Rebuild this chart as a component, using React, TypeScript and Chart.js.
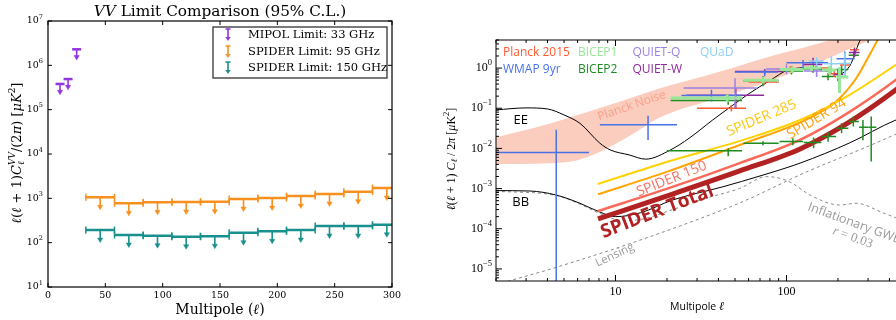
import React, { useEffect, useRef } from "react";
import { Chart, registerables } from "chart.js";

Chart.register(...registerables);

/* ================= Left panel: VV limits ================= */
const vvBinLo = [33, 58, 83, 108, 133, 158, 183, 208, 233, 258, 283];
const vvBinHi = [58, 83, 108, 133, 158, 183, 208, 233, 258, 283, 308];
const vvBinCenter = [45.5, 70.5, 95.5, 120.5, 145.5, 170.5, 195.5, 220.5, 245.5, 270.5, 295.5];
const spider95Limit = [1055, 771, 813, 830, 840, 966, 1015, 1127, 1250, 1415, 1710];
const spider150Limit = [193, 149, 144, 136, 140, 168, 180, 193, 238, 238, 254];
const mipolEll = [10.5, 17.5, 25];
const mipolLimit = [3.8e5, 4.9e5, 2.3e6];
const vvXTicks = [0, 50, 100, 150, 200, 250, 300];
const vvYTickExps = [1, 2, 3, 4, 5, 6, 7];
const vvLegendLabels = ["MIPOL Limit: 33 GHz", "SPIDER Limit: 95 GHz", "SPIDER Limit: 150 GHz"];

/* ================= Right panel: EE / BB ================= */
const noiseEll = [2, 4, 6, 8, 12, 18, 40, 80, 160, 270, 500];
const noiseUpper = [0.019, 0.04, 0.068, 0.1, 0.175, 0.31, 0.8, 1.95, 4.3, 8.4, 20];
const noiseLower = [0.0041, 0.0043, 0.0051, 0.008, 0.02, 0.058, 0.18, 0.48, 1.45, 3.9, 10];

const eeEll = [2, 3, 4, 5, 6.2, 8.1, 9.3, 12, 15, 21, 27, 37, 47, 61, 80, 104, 137, 171, 196, 234, 268, 300];
const eeVal = [0.091, 0.102, 0.096, 0.068, 0.042, 0.0135, 0.0092, 0.0069, 0.0054, 0.0092, 0.018, 0.051, 0.108, 0.238, 0.49, 0.92, 1.02, 0.84, 0.69, 1.12, 4.7, 12];

const bbEll = [2, 3.15, 4.5, 6.2, 8.1, 10, 14, 21.6, 42.5, 70, 120, 234, 437, 500];
const bbVal = [8.9e-4, 8.7e-4, 6.9e-4, 4.3e-4, 2.6e-4, 2.0e-4, 2.5e-4, 5.2e-4, 1.11e-3, 2.06e-3, 4.3e-3, 0.0137, 0.051, 0.061];

const lensEll = [2, 2.5, 4.55, 13.9, 53.3, 131, 268, 500];
const lensVal = [4.0e-6, 5.3e-6, 1.11e-5, 5.2e-5, 4.4e-4, 2.6e-3, 9.2e-3, 0.029];

const gwbEll = [2, 4.5, 6.2, 8.1, 11, 14, 21.6, 35, 53, 76, 100, 143, 204, 256, 366, 500];
const gwbVal = [8.6e-4, 6.7e-4, 4.1e-4, 2.4e-4, 1.6e-4, 1.7e-4, 3.0e-4, 6.0e-4, 1.0e-3, 1.98e-3, 1.6e-3, 6.3e-4, 3.9e-4, 4.3e-4, 2.5e-4, 1.5e-4];

const sp285Ell = [7.9, 19.9, 61, 120, 234, 437, 500];
const sp285Val = [1.3e-3, 4.6e-3, 0.0183, 0.051, 0.216, 1.21, 1.8];
const sp94Ell = [7.9, 19.9, 53.3, 137, 196, 257, 307, 342, 400];
const sp94Val = [7.2e-4, 2.6e-3, 0.0122, 0.0577, 0.15, 0.573, 2.18, 5.1, 16];
const sp150Ell = [7.9, 19.9, 53.3, 120, 234, 437, 500];
const sp150Val = [2.76e-4, 9.8e-4, 4.3e-3, 0.0163, 0.0813, 0.51, 0.81];
const spTotEll = [7.9, 19.9, 53.3, 120, 234, 437, 500];
const spTotVal = [1.75e-4, 6.5e-4, 2.75e-3, 9.7e-3, 0.0458, 0.288, 0.455];

// Experiments: centre, bin low, bin high, value, error low, error high
const wmapEll = [4.5, 15.5, 36.4, 74.6, 125, 219];
const wmapLo = [2, 8.1, 24.3, 49.8, 100, 196];
const wmapHi = [7, 22.9, 54.6, 89, 175, 250];
const wmapVal = [0.0079, 0.0386, 0.207, 0.795, 1.36, 1.71];
const wmapErrLo = [1e-7, 0.0163, 0.147, 0.63, 0.92, 0.57];
const wmapErrHi = [0.029, 0.065, 0.288, 0.92, 1.6, 2.6];

const bicep1Ell = [45, 73, 108, 140, 178, 204];
const bicep1Lo = [21, 56, 91, 126, 161, 196];
const bicep1Hi = [55, 90, 125, 160, 195, 230];
const bicep1Val = [0.179, 0.5, 0.92, 1.0, 0.9, 0.6];
const bicep1ErrLo = [0.14, 0.42, 0.75, 0.85, 0.7, 0.24];
const bicep1ErrHi = [0.22, 0.6, 1.1, 1.2, 1.15, 1.05];

const bicep2EEEll = [45.6, 72.9, 107, 142, 175, 210, 247];
const bicep2EELo = [21, 56, 91, 126, 161, 196, 231];
const bicep2EEHi = [55, 90, 125, 160, 195, 230, 265];
const bicep2EEVal = [0.156, 0.474, 0.84, 0.95, 0.62, 0.92, 2.1];
const bicep2EEErrLo = [0.122, 0.355, 0.69, 0.8, 0.5, 0.75, 1.7];
const bicep2EEErrHi = [0.215, 0.63, 1.12, 1.1, 0.75, 1.15, 2.6];

const bicep2BBEll = [45.6, 72.9, 109, 144, 175, 210, 246, 280, 313];
const bicep2BBLo = [20, 56, 91, 126, 161, 196, 231, 266, 301];
const bicep2BBHi = [55, 90, 125, 160, 195, 230, 265, 300, 335];
const bicep2BBVal = [0.0087, 0.0135, 0.0148, 0.014, 0.0197, 0.0319, 0.0466, 0.0338, 0.0338];
const bicep2BBErrLo = [0.0064, 0.012, 0.012, 0.0101, 0.0147, 0.024, 0.035, 0.016, 0.0047];
const bicep2BBErrHi = [0.0099, 0.015, 0.018, 0.0186, 0.026, 0.042, 0.062, 0.051, 0.062];

const planckEll = [47.6, 74, 105, 148, 190, 220, 250];
const planckLo = [30, 60, 90, 125, 175, 205, 235];
const planckHi = [58, 90, 125, 175, 205, 235, 265];
const planckVal = [0.1, 0.45, 0.95, 1.0, 0.72, 1.2, 2.86];
const planckErrLo = [0.083, 0.38, 0.82, 0.87, 0.6, 1.0, 2.4];
const planckErrHi = [0.12, 0.53, 1.1, 1.15, 0.85, 1.4, 3.3];

const quietQEll = [50, 100, 150];
const quietQLo = [25, 76, 126];
const quietQHi = [67, 125, 175];
const quietQVal = [0.32, 0.95, 0.85];
const quietQErrLo = [0.1, 0.7, 0.6];
const quietQErrHi = [0.56, 1.25, 1.15];

const quietWEll = [50.5, 74.5, 143, 200, 250];
const quietWLo = [26, 50, 125, 190, 232];
const quietWHi = [74, 95, 162, 215, 268];
const quietWVal = [0.212, 0.82, 1.23, 0.69, 2.45];
const quietWErrLo = [0.1, 0.7, 0.76, 0.47, 1.9];
const quietWErrHi = [0.32, 0.95, 1.8, 0.92, 3.1];

const quadEll = [150, 183, 219];
const quadLo = [135, 165, 200];
const quadHi = [165, 200, 240];
const quadVal = [1.5, 1.28, 1.3];
const quadErrLo = [1.1, 0.75, 0.63];
const quadErrHi = [1.9, 1.99, 2.4];

const ellTickValues = [10, 100];
const clTickExps = [0, -1, -2, -3, -4, -5];
const legendNames = ["Planck 2015", "BICEP1", "QUIET-Q", "QUaD", "WMAP 9yr", "BICEP2", "QUIET-W"];

/* ================= styles ================= */
const C_ORANGE = "#f7901e";
const C_TEAL = "#18908e";
const C_PURPLE = "#9234e0";
const C_PLANCK = "#ff5a30";
const C_BICEP1 = "#98e698";
const C_QUIETQ = "#9a80e0";
const C_QUAD = "#8ccff5";
const C_WMAP = "#4a72e8";
const C_BICEP2 = "#1e8c1e";
const C_QUIETW = "#8e2a9c";
const legendColors = [C_PLANCK, C_BICEP1, C_QUIETQ, C_QUAD, C_WMAP, C_BICEP2, C_QUIETW];
const legendPos = [[7, 12.5], [82, 12.5], [136.5, 12.5], [204, 12.5], [7, 30], [82, 30], [136.5, 30]];

const ARROW_RATIO = 0.61;
const MIPOL_ARROW_RATIO = 0.67;

type Seg = { t: string; f: string; dy?: number; adv?: boolean; c?: string };

function richWidth(ctx: CanvasRenderingContext2D, segs: Seg[]) {
  let w = 0;
  for (const s of segs) {
    if (s.adv === false) continue;
    ctx.font = s.f;
    w += ctx.measureText(s.t).width;
  }
  return w;
}

function drawRich(
  ctx: CanvasRenderingContext2D,
  segs: Seg[],
  x: number,
  y: number,
  align: "left" | "center" | "right",
  angle = 0,
  color = "#000"
) {
  ctx.save();
  ctx.translate(x, y);
  if (angle) ctx.rotate(angle);
  const w = richWidth(ctx, segs);
  let cx = align === "left" ? 0 : align === "center" ? -w / 2 : -w;
  ctx.textAlign = "left";
  ctx.textBaseline = "middle";
  for (const s of segs) {
    ctx.font = s.f;
    ctx.fillStyle = s.c || color;
    ctx.fillText(s.t, cx, s.dy || 0);
    if (s.adv !== false) cx += ctx.measureText(s.t).width;
  }
  ctx.restore();
}

const deg = (d: number) => (d * Math.PI) / 180;

/* ---------- data builders ---------- */
function binBars(v: number[]) {
  const d: any[] = [];
  for (let i = 0; i < v.length; i++) {
    d.push({ x: vvBinLo[i], y: v[i] }, { x: vvBinHi[i], y: v[i] }, { x: vvBinHi[i], y: null });
  }
  return d;
}
function stems(xs: number[], v: number[], r: number) {
  const d: any[] = [];
  for (let i = 0; i < v.length; i++) {
    d.push({ x: xs[i], y: v[i] }, { x: xs[i], y: v[i] * r }, { x: xs[i], y: null });
  }
  return d;
}
function heads(xs: number[], v: number[], r: number) {
  return xs.map((x, i) => ({ x, y: v[i] * r }));
}
function curve(xs: number[], ys: number[]) {
  return xs.map((x, i) => ({ x, y: ys[i] }));
}
function crosses(ell: number[], lo: number[], hi: number[], val: number[], eLo: number[], eHi: number[]) {
  const d: any[] = [];
  for (let i = 0; i < ell.length; i++) {
    d.push({ x: lo[i], y: val[i] }, { x: hi[i], y: val[i] }, { x: hi[i], y: null });
    d.push({ x: ell[i], y: eLo[i] }, { x: ell[i], y: eHi[i] }, { x: ell[i], y: null });
  }
  return d;
}

/* ---------- left decorations ---------- */
const leftDeco = {
  id: "leftDeco",
  afterDraw(chart: any) {
    const { ctx, chartArea: a, scales } = chart;
    const x = scales.x, y = scales.y;
    ctx.save();
    ctx.strokeStyle = "#000";
    ctx.lineWidth = 1.2;
    ctx.strokeRect(a.left, a.top, a.right - a.left, a.bottom - a.top);
    ctx.lineWidth = 1;
    for (const t of vvXTicks) {
      const px = x.getPixelForValue(t);
      ctx.beginPath();
      ctx.moveTo(px, a.bottom); ctx.lineTo(px, a.bottom - 4);
      ctx.moveTo(px, a.top); ctx.lineTo(px, a.top + 4);
      ctx.stroke();
      drawRich(ctx, [{ t: String(t), f: "9.5px 'DejaVu Serif'" }], px, a.bottom + 9, "center");
    }
    for (const e of vvYTickExps) {
      const py = y.getPixelForValue(Math.pow(10, e));
      ctx.beginPath();
      ctx.moveTo(a.left, py); ctx.lineTo(a.left + 4, py);
      ctx.moveTo(a.right, py); ctx.lineTo(a.right - 4, py);
      ctx.stroke();
      drawRich(ctx, [
        { t: "10", f: "9.5px 'DejaVu Serif'" },
        { t: String(e), f: "6.5px 'DejaVu Serif'", dy: -4 },
      ], a.left - 5, py, "right");
    }
    // title
    drawRich(ctx, [
      { t: "VV", f: "italic 15.3px 'DejaVu Serif'" },
      { t: " Limit Comparison (95% C.L.)", f: "15.3px 'DejaVu Serif'" },
    ], (a.left + a.right) / 2, 12, "center");
    // x title
    drawRich(ctx, [
      { t: "Multipole (", f: "14px 'DejaVu Serif'" },
      { t: "ℓ", f: "italic 14px 'DejaVu Serif'" },
      { t: ")", f: "14px 'DejaVu Serif'" },
    ], (a.left + a.right) / 2, 310, "center");
    // y title
    const F = "13px 'DejaVu Serif'", FI = "italic 13px 'DejaVu Serif'", FS = "italic 9px 'DejaVu Serif'", FS2 = "9px 'DejaVu Serif'";
    drawRich(ctx, [
      { t: "ℓ", f: FI }, { t: "(", f: F }, { t: "ℓ", f: FI }, { t: " + 1)", f: F },
      { t: "C", f: FI }, { t: "ℓ", f: FS, dy: 4, adv: false }, { t: "VV", f: FS, dy: -5 },
      { t: "/(2", f: F }, { t: "π", f: FI }, { t: ") [", f: F }, { t: "μK", f: FI },
      { t: "2", f: FS2, dy: -5 }, { t: "]", f: F },
    ], 18, (a.top + a.bottom) / 2 - 1, "center", -Math.PI / 2);
    // legend
    const lx = a.left + 165, ly = a.top + 6, lw = 174, lh = 51;
    ctx.fillStyle = "#fff";
    ctx.fillRect(lx, ly, lw, lh);
    ctx.strokeStyle = "#333";
    ctx.lineWidth = 1.3;
    ctx.strokeRect(lx, ly, lw, lh);
    const cols = [C_PURPLE, C_ORANGE, C_TEAL];
    const rows = [14, 31, 47];
    for (let i = 0; i < 3; i++) {
      const ry = a.top + rows[i];
      const ix = a.left + 180;
      ctx.strokeStyle = cols[i];
      ctx.fillStyle = cols[i];
      ctx.lineWidth = 1.6;
      ctx.beginPath();
      ctx.moveTo(ix, ry - 6); ctx.lineTo(ix, ry + 3);
      ctx.moveTo(ix - 2.5, ry - 6); ctx.lineTo(ix + 2.5, ry - 6);
      ctx.stroke();
      ctx.beginPath();
      ctx.moveTo(ix - 2.6, ry + 2); ctx.lineTo(ix + 2.6, ry + 2); ctx.lineTo(ix, ry + 6);
      ctx.closePath(); ctx.fill();
      drawRich(ctx, [{ t: vvLegendLabels[i], f: "11.5px 'DejaVu Serif'" }], a.left + 200, ry, "left");
    }
    ctx.restore();
  },
};

/* ---------- right decorations ---------- */
const annotations = [
  { t: "EE", ell: 2.79, v: 0.0514, a: 0, c: "#000", f: "13px 'Open Sans'" },
  { t: "BB", ell: 2.79, v: 4.6e-4, a: 0, c: "#000", f: "13px 'Open Sans'" },
  { t: "Planck Noise", ell: 12.45, v: 0.115, a: -19, c: "#f7a08a", f: "12px 'Open Sans'" },
  { t: "SPIDER 285", ell: 71.5, v: 0.0566, a: -23, c: "#fcc80c", f: "14px 'Open Sans'" },
  { t: "SPIDER 94", ell: 150, v: 0.0544, a: -31, c: "#ffa010", f: "14px 'Open Sans'" },
  { t: "SPIDER 150", ell: 21.3, v: 1.73e-3, a: -22, c: "#f87262", f: "14px 'Open Sans'" },
  { t: "SPIDER Total", ell: 17.55, v: 2.65e-4, a: -21, c: "#b22222", f: "bold 19px 'Open Sans'" },
  { t: "Lensing", ell: 9.9, v: 2.2e-5, a: -25, c: "#9a9a9a", f: "11.5px 'Open Sans'" },
  { t: "Inflationary GWB", ell: 250, v: 1.35e-4, a: 20, c: "#9a9a9a", f: "12.5px 'Open Sans'" },
];

const rightDeco = {
  id: "rightDeco",
  afterDraw(chart: any) {
    const { ctx, chartArea: a, scales } = chart;
    const x = scales.x, y = scales.y;
    ctx.save();
    ctx.strokeStyle = "#000";
    ctx.lineWidth = 1;
    ctx.strokeRect(a.left, a.top, a.right - a.left, a.bottom - a.top);
    // x ticks
    for (const dec of [1, 10, 100]) {
      for (let k = 1; k <= 9; k++) {
        const v = dec * k;
        if (v < x.min || v > x.max) continue;
        const px = x.getPixelForValue(v);
        const len = k === 1 ? 6 : 3;
        ctx.beginPath();
        ctx.moveTo(px, a.bottom); ctx.lineTo(px, a.bottom - len);
        ctx.moveTo(px, a.top); ctx.lineTo(px, a.top + len);
        ctx.stroke();
      }
    }
    for (const t of ellTickValues) {
      drawRich(ctx, [{ t: String(t), f: "12px 'Liberation Serif'" }], x.getPixelForValue(t), a.bottom + 11, "center");
    }
    // y ticks
    for (let e = -6; e <= 1; e++) {
      for (let k = 1; k <= 9; k++) {
        const v = k * Math.pow(10, e);
        if (v < y.min || v > y.max) continue;
        const py = y.getPixelForValue(v);
        const len = k === 1 ? 6 : 3;
        ctx.beginPath();
        ctx.moveTo(a.left, py); ctx.lineTo(a.left + len, py);
        ctx.moveTo(a.right, py); ctx.lineTo(a.right - len, py);
        ctx.stroke();
      }
    }
    for (const e of clTickExps) {
      drawRich(ctx, [
        { t: "10", f: "12px 'Liberation Serif'" },
        { t: e === 0 ? "0" : "−" + -e, f: "8.5px 'Liberation Serif'", dy: -5 },
      ], a.left - 4, y.getPixelForValue(Math.pow(10, e)), "right");
    }
    // axis titles
    drawRich(ctx, [
      { t: "Multipole ", f: "10.5px 'Open Sans'" },
      { t: "ℓ", f: "italic 12px 'Liberation Serif'" },
    ], 257, 307, "center");
    const F = "12px 'Liberation Serif'", FI = "italic 12px 'Liberation Serif'", FS = "italic 8.5px 'Liberation Serif'", FS2 = "8.5px 'Liberation Serif'";
    drawRich(ctx, [
      { t: "ℓ", f: FI }, { t: "(", f: F }, { t: "ℓ", f: FI }, { t: " + 1) ", f: F },
      { t: "C", f: FI }, { t: "ℓ", f: FS, dy: 3 }, { t: " / 2", f: F }, { t: "π", f: FI },
      { t: " [", f: F }, { t: "μ", f: FI }, { t: "K", f: F }, { t: "2", f: FS2, dy: -5 }, { t: "]", f: F },
    ], 12, 159, "center", -Math.PI / 2);
    // legend (coloured names)
    for (let i = 0; i < legendNames.length; i++) {
      drawRich(ctx, [{ t: legendNames[i], f: "12px 'Open Sans'" }],
        a.left + legendPos[i][0], a.top + legendPos[i][1], "left", 0, legendColors[i]);
    }
    // annotations
    for (const an of annotations) {
      drawRich(ctx, [{ t: an.t, f: an.f }], x.getPixelForValue(an.ell), y.getPixelForValue(an.v), "center", deg(an.a), an.c);
    }
    drawRich(ctx, [
      { t: "r", f: "italic 13px 'Liberation Serif'" },
      { t: " = 0.03", f: "13px 'Liberation Serif'" },
    ], x.getPixelForValue(244), y.getPixelForValue(6.0e-5), "center", deg(20), "#9a9a9a");
    ctx.restore();
  },
};

/* ---------- configs ---------- */
function leftConfig(): any {
  const common = { showLine: true, spanGaps: false, pointRadius: 0, tension: 0 };
  return {
    type: "line",
    data: {
      datasets: [
        { ...common, data: binBars(spider95Limit), borderColor: C_ORANGE, borderWidth: 2.5,
          pointStyle: "line", pointRotation: 90, pointRadius: 3.5, pointBorderColor: C_ORANGE, pointBorderWidth: 1.5 },
        { ...common, data: stems(vvBinCenter, spider95Limit, ARROW_RATIO), borderColor: C_ORANGE, borderWidth: 1.6 },
        { data: heads(vvBinCenter, spider95Limit, ARROW_RATIO), showLine: false, pointStyle: "triangle", pointRotation: 180,
          pointRadius: 3, pointBackgroundColor: C_ORANGE, pointBorderColor: C_ORANGE, pointBorderWidth: 0.5 },
        { ...common, data: binBars(spider150Limit), borderColor: C_TEAL, borderWidth: 2.5,
          pointStyle: "line", pointRotation: 90, pointRadius: 3.5, pointBorderColor: C_TEAL, pointBorderWidth: 1.5 },
        { ...common, data: stems(vvBinCenter, spider150Limit, ARROW_RATIO), borderColor: C_TEAL, borderWidth: 1.6 },
        { data: heads(vvBinCenter, spider150Limit, ARROW_RATIO), showLine: false, pointStyle: "triangle", pointRotation: 180,
          pointRadius: 3, pointBackgroundColor: C_TEAL, pointBorderColor: C_TEAL, pointBorderWidth: 0.5 },
        { data: curve(mipolEll, mipolLimit), showLine: false, pointStyle: "line", pointRadius: 4.5,
          pointBorderColor: C_PURPLE, pointBorderWidth: 2.5 },
        { ...common, data: stems(mipolEll, mipolLimit, MIPOL_ARROW_RATIO), borderColor: C_PURPLE, borderWidth: 1.6 },
        { data: heads(mipolEll, mipolLimit, MIPOL_ARROW_RATIO), showLine: false, pointStyle: "triangle", pointRotation: 180,
          pointRadius: 3, pointBackgroundColor: C_PURPLE, pointBorderColor: C_PURPLE, pointBorderWidth: 0.5 },
      ],
    },
    options: {
      responsive: false,
      animation: false,
      events: [],
      layout: { padding: { left: 48, right: 48, top: 21, bottom: 33 } },
      scales: {
        x: { type: "linear", min: 0, max: 300, display: false },
        y: { type: "logarithmic", min: 10, max: 1e7, display: false },
      },
      plugins: { legend: { display: false }, tooltip: { enabled: false } },
    },
    plugins: [leftDeco],
  };
}

function rightConfig(): any {
  const theory = { showLine: true, pointRadius: 0, cubicInterpolationMode: "monotone", order: 8 };
  const spider = { showLine: true, pointRadius: 0, cubicInterpolationMode: "monotone", order: 6 };
  const cross = { showLine: true, spanGaps: false, pointRadius: 0, tension: 0, order: 2 };
  return {
    type: "line",
    data: {
      datasets: [
        { data: curve(noiseEll, noiseUpper), showLine: true, pointRadius: 0, borderWidth: 0, borderColor: "rgba(0,0,0,0)",
          backgroundColor: "#fbcdbe", fill: "+1", cubicInterpolationMode: "monotone", order: 10 },
        { data: curve(noiseEll, noiseLower), showLine: true, pointRadius: 0, borderWidth: 0, borderColor: "rgba(0,0,0,0)",
          fill: false, cubicInterpolationMode: "monotone", order: 10 },
        { ...theory, data: curve(eeEll, eeVal), borderColor: "#000", borderWidth: 1 },
        { ...theory, data: curve(bbEll, bbVal), borderColor: "#000", borderWidth: 1 },
        { ...theory, data: curve(lensEll, lensVal), borderColor: "#888", borderWidth: 1, borderDash: [3, 3] },
        { ...theory, data: curve(gwbEll, gwbVal), borderColor: "#888", borderWidth: 1, borderDash: [3, 3] },
        { ...spider, data: curve(sp285Ell, sp285Val), borderColor: "#ffd200", borderWidth: 2 },
        { ...spider, data: curve(sp94Ell, sp94Val), borderColor: "#ffa500", borderWidth: 2 },
        { ...spider, data: curve(sp150Ell, sp150Val), borderColor: "#fa6a5a", borderWidth: 2.5 },
        { ...spider, data: curve(spTotEll, spTotVal), borderColor: "#b22222", borderWidth: 5 },
        { ...cross, data: crosses(bicep1Ell, bicep1Lo, bicep1Hi, bicep1Val, bicep1ErrLo, bicep1ErrHi), borderColor: C_BICEP1, borderWidth: 3 },
        { ...cross, data: crosses(quietQEll, quietQLo, quietQHi, quietQVal, quietQErrLo, quietQErrHi), borderColor: C_QUIETQ, borderWidth: 1.5 },
        { ...cross, data: crosses(quadEll, quadLo, quadHi, quadVal, quadErrLo, quadErrHi), borderColor: C_QUAD, borderWidth: 1.5 },
        { ...cross, data: crosses(wmapEll, wmapLo, wmapHi, wmapVal, wmapErrLo, wmapErrHi), borderColor: C_WMAP, borderWidth: 1.5 },
        { ...cross, data: crosses(quietWEll, quietWLo, quietWHi, quietWVal, quietWErrLo, quietWErrHi), borderColor: C_QUIETW, borderWidth: 1.5 },
        { ...cross, data: crosses(planckEll, planckLo, planckHi, planckVal, planckErrLo, planckErrHi), borderColor: C_PLANCK, borderWidth: 1.5 },
        { ...cross, data: crosses(bicep2EEEll, bicep2EELo, bicep2EEHi, bicep2EEVal, bicep2EEErrLo, bicep2EEErrHi), borderColor: C_BICEP2, borderWidth: 1.5 },
        { ...cross, data: crosses(bicep2BBEll, bicep2BBLo, bicep2BBHi, bicep2BBVal, bicep2BBErrLo, bicep2BBErrHi), borderColor: C_BICEP2, borderWidth: 1.5 },
      ],
    },
    options: {
      responsive: false,
      animation: false,
      events: [],
      layout: { padding: { left: 56, right: 14, top: 40, bottom: 39 } },
      scales: {
        x: { type: "logarithmic", min: 2, max: 500, display: false },
        y: { type: "logarithmic", min: 5e-6, max: 5, display: false },
      },
      plugins: { legend: { display: false }, tooltip: { enabled: false } },
    },
    plugins: [rightDeco],
  };
}

export default function App() {
  const leftRef = useRef<HTMLCanvasElement>(null);
  const rightRef = useRef<HTMLCanvasElement>(null);
  useEffect(() => {
    const c1 = new Chart(leftRef.current as HTMLCanvasElement, leftConfig());
    const c2 = new Chart(rightRef.current as HTMLCanvasElement, rightConfig());
    return () => {
      c1.destroy();
      c2.destroy();
    };
  }, []);
  return (
    <div style={{ position: "absolute", left: 0, top: 0, width: 896, height: 320, overflow: "hidden", background: "#fff" }}>
      <canvas ref={leftRef} width={440} height={320} style={{ position: "absolute", left: 0, top: 0, width: 440, height: 320 }} />
      <canvas ref={rightRef} width={480} height={320} style={{ position: "absolute", left: 440, top: 0, width: 480, height: 320 }} />
    </div>
  );
}
